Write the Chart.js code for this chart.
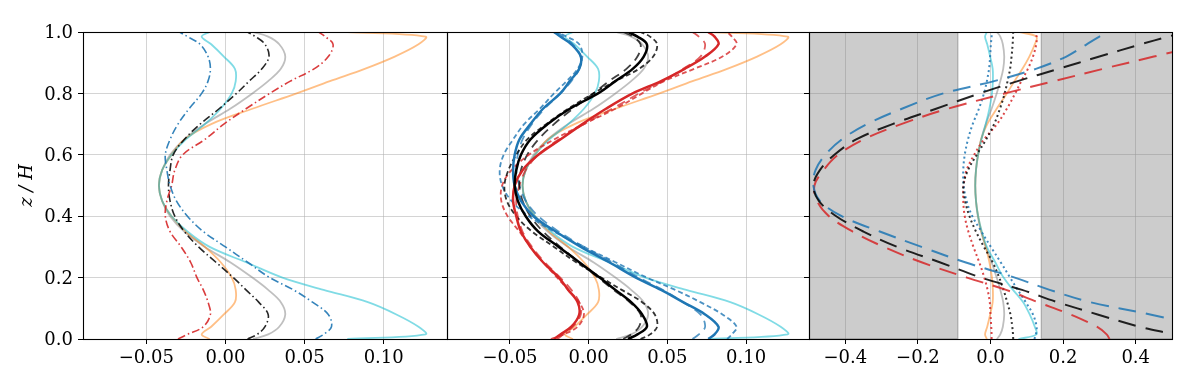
<!DOCTYPE html>
<html><head><meta charset="utf-8">
<script src="https://cdn.jsdelivr.net/npm/chart.js@4/dist/chart.umd.min.js"></script>
<style>
html,body{margin:0;padding:0;background:#fff;}
#wrap{position:relative;width:1196px;height:383px;overflow:hidden;background:#fff;}
canvas{position:absolute;left:0;top:0;}
</style></head><body>
<div id="wrap">
<canvas id="c1" width="1196" height="383"></canvas>
<canvas id="c2" width="1196" height="383"></canvas>
<canvas id="c3" width="1196" height="383"></canvas>
</div>
<script>
// ---- heights z/H shared by every profile ----
const Z = [0, 0.015, 0.04, 0.08, 0.12, 0.16, 0.2, 0.25, 0.3, 0.35, 0.4, 0.45, 0.5, 0.55, 0.6, 0.65, 0.7, 0.75, 0.8, 0.84, 0.88, 0.92, 0.96, 0.985, 1.0];

// ---- light reference profiles (panels 1, 2, 3) ----
const LIGHT_CYAN   = [0.077, 0.1265, 0.122, 0.108, 0.090, 0.062, 0.036, 0.013, -0.010, -0.024, -0.034, -0.040, -0.042, -0.040, -0.034, -0.025, -0.013, -0.003, 0.004, 0.0065, 0.006, -0.001, -0.009, -0.015, -0.010];
const LIGHT_ORANGE = [-0.010, -0.015, -0.009, -0.001, 0.006, 0.0065, 0.004, -0.003, -0.013, -0.025, -0.034, -0.040, -0.042, -0.040, -0.034, -0.026, -0.009, 0.017, 0.045, 0.066, 0.088, 0.107, 0.122, 0.1265, 0.077];
const LIGHT_GRAY   = [0.0175, 0.027, 0.034, 0.0378, 0.035, 0.027, 0.017, 0.003, -0.013, -0.026, -0.035, -0.040, -0.042, -0.040, -0.035, -0.026, -0.013, 0.003, 0.017, 0.027, 0.035, 0.0378, 0.034, 0.027, 0.0175];

// ---- panel 1 dash-dot profiles ----
const P1_BLACK = [0.014, 0.020, 0.025, 0.027, 0.021, 0.013, 0.005, -0.006, -0.017, -0.026, -0.032, -0.035, -0.036, -0.035, -0.033, -0.026, -0.016, -0.004, 0.007, 0.015, 0.023, 0.0275, 0.025, 0.019, 0.014];
const P1_RED   = [-0.030, -0.024, -0.014, -0.0095, -0.011, -0.014, -0.018, -0.022, -0.028, -0.035, -0.038, -0.037, -0.034, -0.032, -0.027, -0.013, -0.001, 0.013, 0.028, 0.041, 0.056, 0.065, 0.068, 0.063, 0.059];
const P1_BLUE  = [0.057, 0.062, 0.067, 0.065, 0.055, 0.043, 0.028, 0.014, 0.000, -0.014, -0.024, -0.031, -0.035, -0.037, -0.038, -0.035, -0.030, -0.023, -0.015, -0.011, -0.0095, -0.011, -0.016, -0.024, -0.029];

// ---- panel 2 profiles ----
const P2_BLACK       = [0.025, 0.031, 0.037, 0.034, 0.027, 0.017, 0.007, -0.006, -0.019, -0.032, -0.040, -0.045, -0.047, -0.046, -0.043, -0.037, -0.026, -0.012, 0.006, 0.017, 0.028, 0.035, 0.037, 0.031, 0.025];
const P2_BLACK_DASH  = [0.033, 0.039, 0.0435, 0.042, 0.034, 0.021, 0.008, -0.008, -0.022, -0.036, -0.046, -0.052, -0.0535, -0.051, -0.046, -0.039, -0.027, -0.013, 0.003, 0.017, 0.032, 0.041, 0.0435, 0.039, 0.033];
const P2_BLACK_LDASH = [0.022, 0.027, 0.032, 0.033, 0.026, 0.016, 0.006, -0.006, -0.018, -0.029, -0.037, -0.042, -0.044, -0.043, -0.039, -0.032, -0.022, -0.010, 0.003, 0.013, 0.024, 0.031, 0.033, 0.028, 0.022];
const P2_BLUE        = [0.076, 0.080, 0.0825, 0.074, 0.060, 0.046, 0.030, 0.013, -0.005, -0.021, -0.035, -0.043, -0.047, -0.048, -0.047, -0.044, -0.037, -0.029, -0.018, -0.012, -0.006, -0.005, -0.011, -0.018, -0.022];
const P2_RED         = [-0.022, -0.018, -0.011, -0.006, -0.007, -0.013, -0.019, -0.029, -0.037, -0.043, -0.046, -0.048, -0.047, -0.042, -0.032, -0.018, -0.004, 0.011, 0.028, 0.046, 0.061, 0.074, 0.0825, 0.080, 0.076];
const P2_BLUE_DASH   = [0.088, 0.091, 0.094, 0.085, 0.071, 0.055, 0.037, 0.017, -0.003, -0.022, -0.038, -0.049, -0.055, -0.0565, -0.054, -0.048, -0.041, -0.031, -0.022, -0.014, -0.007, -0.004, -0.006, -0.014, -0.020];
const P2_RED_DASH    = [-0.024, -0.016, -0.007, -0.003, -0.006, -0.013, -0.020, -0.029, -0.037, -0.044, -0.0515, -0.0555, -0.055, -0.049, -0.038, -0.022, -0.003, 0.017, 0.034, 0.048, 0.067, 0.085, 0.094, 0.091, 0.088];
const P2_BLUE_LDASH  = [0.066, 0.070, 0.074, 0.071, 0.060, 0.047, 0.032, 0.015, -0.003, -0.019, -0.032, -0.040, -0.044, -0.046, -0.045, -0.042, -0.036, -0.028, -0.018, -0.011, -0.006, -0.005, -0.010, -0.016, -0.020];
const P2_RED_LDASH   = [-0.020, -0.016, -0.010, -0.005, -0.006, -0.011, -0.018, -0.028, -0.036, -0.042, -0.045, -0.046, -0.044, -0.040, -0.032, -0.019, -0.003, 0.015, 0.032, 0.047, 0.060, 0.071, 0.074, 0.070, 0.066];

// ---- panel 3 profiles ----
const P3_BLACK_DOT   = [0.0625, 0.062, 0.060, 0.055, 0.046, 0.036, 0.024, 0.006, -0.018, -0.040, -0.058, -0.070, -0.075, -0.062, -0.038, -0.012, 0.010, 0.026, 0.039, 0.047, 0.054, 0.058, 0.061, 0.062, 0.0625];
const P3_BLUE_DOT    = [0.121, 0.125, 0.127, 0.117, 0.097, 0.075, 0.054, 0.028, 0.001, -0.025, -0.050, -0.066, -0.074, -0.075, -0.071, -0.062, -0.049, -0.032, -0.018, -0.010, -0.004, -0.001, 0.001, 0.003, 0.003];
const P3_RED_DOT     = [0.003, 0.003, 0.002, 0.000, -0.002, -0.008, -0.017, -0.031, -0.047, -0.061, -0.071, -0.075, -0.074, -0.066, -0.045, -0.018, 0.018, 0.045, 0.068, 0.085, 0.103, 0.117, 0.126, 0.127, 0.122];
const P3_BLACK_LDASH = [0.55, 0.504, 0.41, 0.295, 0.184, 0.087, -0.026, -0.14, -0.257, -0.35, -0.425, -0.473, -0.488, -0.47, -0.43, -0.37, -0.27, -0.15, -0.03, 0.075, 0.187, 0.30, 0.414, 0.49, 0.535];
const P3_BLUE_LDASH  = [0.70, 0.64, 0.58, 0.44, 0.275, 0.163, 0.067, -0.07, -0.19, -0.305, -0.41, -0.47, -0.488, -0.482, -0.455, -0.41, -0.34, -0.244, -0.13, 0.01, 0.125, 0.209, 0.265, 0.30, 0.325];
const P3_RED_LDASH   = [0.328, 0.32, 0.293, 0.22, 0.13, 0.043, -0.065, -0.19, -0.294, -0.38, -0.445, -0.478, -0.485, -0.46, -0.42, -0.35, -0.246, -0.118, 0.04, 0.175, 0.31, 0.45, 0.59, 0.68, 0.74];

// ---- shaded bands of panel 3 (x extents) ----
const SHADE_LEFT  = [-0.5, -0.09];
const SHADE_RIGHT = [0.5, 0.14];

// ---- axes ----
const X_LIMITS_AB = [-0.09, 0.14];
const X_LIMITS_C  = [-0.5, 0.5];
const X_TICKS_AB  = [-0.05, 0, 0.05, 0.10];
const X_LABELS_AB = ['\u22120.05', '0.00', '0.05', '0.10'];
const X_TICKS_C   = [-0.4, -0.2, 0, 0.2, 0.4];
const X_LABELS_C  = ['\u22120.4', '\u22120.2', '0.0', '0.2', '0.4'];
const Y_TICKS     = [0, 0.2, 0.4, 0.6, 0.8, 1.0];
const Y_LABELS    = ['0.0', '0.2', '0.4', '0.6', '0.8', '1.0'];
const Y_TITLE     = 'z / H';

// ---- styles ----
const FONT = "'DejaVu Serif', serif";
const GRID = 'rgba(176,176,176,0.55)';
const C_CYAN = 'rgba(23,190,207,0.55)', C_ORANGE = 'rgba(255,127,14,0.5)', C_GRAY = 'rgba(128,128,128,0.5)';
const BLUE = '#1f77b4', RED = '#d62728';

function pts(xs){ return xs.map((x,i)=>({x:x, y:Z[i]})); }
function line(xs, color, width, dash, order){
  return {data: pts(xs), borderColor: color, borderWidth: width, borderDash: dash || [],
          pointRadius: 0, fill: false, tension: 0.35, order: order || 0, clip: 0};
}
function band(xr, order){
  return {data: [{x:xr[0],y:0},{x:xr[1],y:0},{x:xr[1],y:1},{x:xr[0],y:1}],
          fill: 'shape', backgroundColor: 'rgba(128,128,128,0.4)', borderColor: 'rgba(110,110,110,0.45)',
          borderWidth: 1.3, tension: 0, pointRadius: 0, order: order, clip: 0};
}

const framePlugin = {id:'frame', afterDraw(c){
  const a = c.chartArea, ctx = c.ctx;
  const L = Math.round(a.left), R = Math.round(a.right), T = Math.round(a.top), B = Math.round(a.bottom);
  ctx.save(); ctx.strokeStyle = '#000'; ctx.lineWidth = 1.1;
  ctx.strokeRect(L + 0.5, T + 0.5, R - L, B - T);
  ctx.restore();
}};

function makePanel(id, leftW, rightPad, xlim, xticks, xlabels, datasets, showY){
  return new Chart(document.getElementById(id), {
    type: 'line',
    data: {datasets: datasets},
    plugins: [framePlugin],
    options: {
      responsive: false, animation: false, devicePixelRatio: 1, indexAxis: 'y',
      layout: {padding: {left: 0, right: rightPad, top: 32, bottom: 0}},
      plugins: {legend: {display: false}, tooltip: {enabled: false}},
      scales: {
        x: {type: 'linear', position: 'bottom', min: xlim[0], max: xlim[1],
            afterBuildTicks: s => { s.ticks = xticks.map(v => ({value: v})); },
            afterFit: s => { s.height = 44; },
            ticks: {autoSkip: false, maxRotation: 0, padding: 3.5, color: '#000', font: {family: FONT, size: 18},
                    callback: (v, i) => xlabels[i]},
            grid: {color: GRID, lineWidth: 1, drawTicks: true, tickLength: 5, tickColor: '#000', tickWidth: 1},
            border: {display: false}},
        y: {type: 'linear', position: 'left', min: 0, max: 1,
            afterBuildTicks: s => { s.ticks = Y_TICKS.map(v => ({value: v})); },
            afterFit: s => { s.width = leftW; },
            ticks: {display: showY, padding: 5, labelOffset: 1.5, color: '#000', font: {family: FONT, size: 18},
                    callback: (v, i) => Y_LABELS[i]},
            grid: {color: GRID, lineWidth: 1, drawTicks: true, tickLength: 5, tickColor: '#000', tickWidth: 1},
            border: {display: false},
            title: {display: showY, text: Y_TITLE, color: '#000', padding: {top: 17, bottom: 0},
                    font: {family: FONT, size: 18, style: 'italic'}}}
      }
    }
  });
}

const DASHDOT = [8, 3, 1.5, 3];
const SDASH = [5, 3];
const LDASH = [9, 6];
const P3DASH = [18, 10];
const DOT = [2, 3];

makePanel('c1', 83, 1196 - 447, X_LIMITS_AB, X_TICKS_AB, X_LABELS_AB, [
  line(P1_BLUE, 'rgba(31,119,180,0.9)', 1.6, DASHDOT, 0),
  line(P1_RED, 'rgba(214,39,40,0.9)', 1.6, DASHDOT, 0),
  line(P1_BLACK, 'rgba(0,0,0,0.85)', 1.6, DASHDOT, 0),
  line(LIGHT_CYAN, C_CYAN, 1.8, [], 5),
  line(LIGHT_ORANGE, C_ORANGE, 1.8, [], 5),
  line(LIGHT_GRAY, C_GRAY, 1.8, [], 5)
], true);

makePanel('c2', 447, 1196 - 809, X_LIMITS_AB, X_TICKS_AB, X_LABELS_AB, [
  line(P2_BLACK, '#000', 2.5, [], 0),
  line(P2_RED, RED, 2.5, [], 0),
  line(P2_BLUE, BLUE, 2.5, [], 0),
  line(P2_BLACK_DASH, 'rgba(0,0,0,0.8)', 1.8, SDASH, 2),
  line(P2_RED_DASH, 'rgba(214,39,40,0.8)', 1.8, SDASH, 2),
  line(P2_BLUE_DASH, 'rgba(31,119,180,0.8)', 1.8, SDASH, 2),
  line(P2_BLACK_LDASH, 'rgba(0,0,0,0.75)', 1.8, LDASH, 3),
  line(P2_RED_LDASH, 'rgba(214,39,40,0.75)', 1.8, LDASH, 3),
  line(P2_BLUE_LDASH, 'rgba(31,119,180,0.75)', 1.8, LDASH, 3),
  line(LIGHT_CYAN, C_CYAN, 1.8, [], 5),
  line(LIGHT_ORANGE, C_ORANGE, 1.8, [], 5),
  line(LIGHT_GRAY, C_GRAY, 1.8, [], 5)
], false);

makePanel('c3', 809, 1196 - 1172, X_LIMITS_C, X_TICKS_C, X_LABELS_C, [
  line(P3_BLACK_LDASH, 'rgba(0,0,0,0.85)', 2, P3DASH, 0),
  line(P3_BLUE_LDASH, 'rgba(31,119,180,0.85)', 2, P3DASH, 0),
  line(P3_RED_LDASH, 'rgba(214,39,40,0.85)', 2, P3DASH, 0),
  line(P3_BLACK_DOT, 'rgba(0,0,0,0.8)', 2, DOT, 1),
  line(P3_BLUE_DOT, 'rgba(31,119,180,0.85)', 2, DOT, 1),
  line(P3_RED_DOT, 'rgba(214,39,40,0.85)', 2, DOT, 1),
  line(LIGHT_CYAN, C_CYAN, 1.8, [], 5),
  line(LIGHT_ORANGE, C_ORANGE, 1.8, [], 5),
  line(LIGHT_GRAY, C_GRAY, 1.8, [], 5),
  band(SHADE_LEFT, 100),
  band(SHADE_RIGHT, 100)
], false);
</script>
</body></html>
